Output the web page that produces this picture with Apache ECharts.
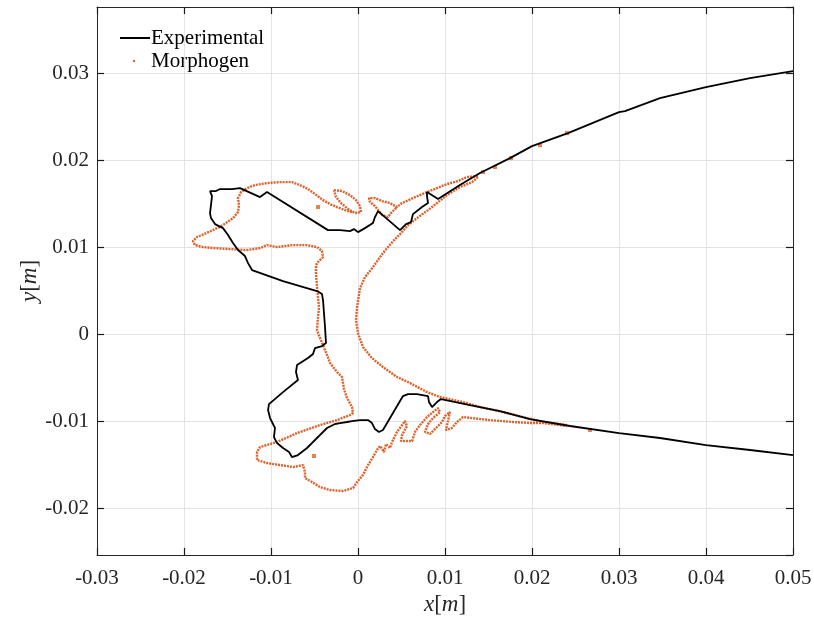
<!DOCTYPE html>
<html>
<head>
<meta charset="utf-8">
<script src="https://cdn.jsdelivr.net/npm/echarts@6/dist/echarts.min.js"></script>
<style>
  html, body { margin: 0; padding: 0; background: #fff; }
  #chart { width: 814px; height: 618px; }
</style>
</head>
<body>
<div id="chart"></div>
<script>
// experimental contour, [x, y] in m
var expPts = [
  [0.0500, 0.03023], [0.04506, 0.02943], [0.0400, 0.02839], [0.03471, 0.02713], [0.03069, 0.02563],
  [0.0300, 0.02552], [0.02414, 0.02310], [0.0200, 0.02161], [0.01747, 0.02023], [0.01402, 0.01851],
  [0.01172, 0.01713], [0.00920, 0.01552], [0.00793, 0.01632], [0.00793, 0.01586], [0.00805, 0.01506],
  [0.00736, 0.01460], [0.00632, 0.01379], [0.00609, 0.01287], [0.00552, 0.01264], [0.00483, 0.01195],
  [0.00230, 0.01414], [0.00195, 0.01345], [0.00172, 0.01276], [0.00080, 0.01218], [0.0, 0.01172],
  [-0.00046, 0.01207], [-0.00092, 0.01184], [-0.00207, 0.01195], [-0.00345, 0.01195], [-0.01046, 0.01632],
  [-0.01126, 0.01575], [-0.01356, 0.01678], [-0.01448, 0.01667], [-0.01586, 0.01667], [-0.01632, 0.01644],
  [-0.01701, 0.01644], [-0.01678, 0.01586], [-0.01690, 0.01483], [-0.01701, 0.01391], [-0.01690, 0.01333],
  [-0.01644, 0.01264], [-0.01552, 0.01218], [-0.01494, 0.01138], [-0.01437, 0.01046], [-0.01379, 0.00966],
  [-0.01299, 0.00897], [-0.01264, 0.00816], [-0.01218, 0.00736], [-0.00862, 0.00609], [-0.00471, 0.00494],
  [-0.00414, 0.00460], [-0.00402, 0.00391], [-0.00391, 0.00241], [-0.00379, 0.00080], [-0.00368, -0.00103],
  [-0.00414, -0.00138], [-0.00494, -0.00161], [-0.00517, -0.00230], [-0.00575, -0.00276], [-0.00701, -0.00356],
  [-0.00713, -0.00437], [-0.00690, -0.00529], [-0.00862, -0.00667], [-0.01023, -0.00805], [-0.01034, -0.00874],
  [-0.01011, -0.00966], [-0.00954, -0.01080], [-0.00966, -0.01184], [-0.00931, -0.01253], [-0.00862, -0.01310],
  [-0.00793, -0.01356], [-0.00759, -0.01414], [-0.00690, -0.01391], [-0.00586, -0.01310], [-0.00471, -0.01195],
  [-0.00356, -0.01080], [-0.00264, -0.01034], [-0.00207, -0.01023], [-0.00126, -0.01011], [-0.00069, -0.01000],
  [0.00023, -0.00989], [0.00115, -0.00989], [0.00161, -0.01023], [0.00195, -0.01092], [0.00241, -0.01126],
  [0.00287, -0.01103], [0.00402, -0.00908], [0.00517, -0.00713], [0.00575, -0.00690], [0.00678, -0.00690],
  [0.00805, -0.00713], [0.00816, -0.00782], [0.00851, -0.00839], [0.00908, -0.00782], [0.00954, -0.00747],
  [0.01287, -0.00816], [0.01632, -0.00885], [0.01977, -0.00977], [0.02437, -0.01057], [0.0300, -0.01138],
  [0.03471, -0.01195], [0.0400, -0.01276], [0.04506, -0.01333], [0.0500, -0.01391]
];

// morphogen contour pieces
var morphUpper = [
  [0.01379, 0.01816], [0.01253, 0.01805], [0.01149, 0.01759], [0.01023, 0.01724], [0.00908, 0.01678],
  [0.00793, 0.01632], [0.00632, 0.01563], [0.00506, 0.01506], [0.00448, 0.01460], [0.00368, 0.01506],
  [0.00276, 0.01529], [0.00195, 0.01563], [0.00126, 0.01563], [0.00138, 0.01517], [0.00195, 0.01471],
  [0.00241, 0.01414], [0.00276, 0.01368], [0.00345, 0.01345], [0.00379, 0.01391], [0.00448, 0.01460]
];
var morphLeaf = [
  [-0.00276, 0.01655], [-0.00184, 0.01644], [-0.00092, 0.01598], [-0.00023, 0.01540], [0.00023, 0.01471],
  [0.00034, 0.01402], [-0.00034, 0.01391], [-0.00115, 0.01437], [-0.00195, 0.01506], [-0.00253, 0.01575],
  [-0.00276, 0.01655]
];
var morphOuter = [
  [-0.00069, 0.01402], [-0.00149, 0.01425], [-0.00241, 0.01460], [-0.00322, 0.01494], [-0.00402, 0.01540],
  [-0.00494, 0.01609], [-0.00575, 0.01667], [-0.00667, 0.01713], [-0.00759, 0.01747], [-0.00897, 0.01747],
  [-0.01046, 0.01736], [-0.01184, 0.01713], [-0.01276, 0.01678], [-0.01345, 0.01632], [-0.01379, 0.01563],
  [-0.01368, 0.01483], [-0.01379, 0.01402], [-0.01437, 0.01333], [-0.01552, 0.01253], [-0.01667, 0.01195],
  [-0.01770, 0.01149], [-0.01851, 0.01115], [-0.01897, 0.01069], [-0.01874, 0.01023], [-0.01782, 0.01000],
  [-0.01667, 0.00989], [-0.01471, 0.00977], [-0.01276, 0.00966], [-0.01126, 0.00989], [-0.01046, 0.01023],
  [-0.00931, 0.01000], [-0.00747, 0.01023], [-0.00586, 0.01023], [-0.00471, 0.01000], [-0.00414, 0.00954],
  [-0.00402, 0.00885], [-0.00460, 0.00828], [-0.00483, 0.00793], [-0.00483, 0.00701], [-0.00471, 0.00540],
  [-0.00460, 0.00425], [-0.00448, 0.00310], [-0.00460, 0.00195], [-0.00471, 0.00046], [-0.00437, -0.00046],
  [-0.00402, -0.00126], [-0.00356, -0.00241], [-0.00322, -0.00333], [-0.00241, -0.00437], [-0.00184, -0.00494],
  [-0.00161, -0.00632], [-0.00126, -0.00736], [-0.00069, -0.00839], [-0.00057, -0.00908], [-0.00092, -0.00931],
  [-0.00241, -0.00989], [-0.00437, -0.01046], [-0.00701, -0.01138], [-0.00931, -0.01241], [-0.01126, -0.01299],
  [-0.01161, -0.01356], [-0.01161, -0.01448], [-0.01046, -0.01483], [-0.00897, -0.01506], [-0.00747, -0.01529],
  [-0.00632, -0.01506], [-0.00609, -0.01586], [-0.00609, -0.01655], [-0.00529, -0.01701], [-0.00437, -0.01759],
  [-0.00322, -0.01793], [-0.00172, -0.01805], [-0.00057, -0.01770], [-0.00011, -0.01701], [0.00057, -0.01621],
  [0.00115, -0.01506], [0.00172, -0.01414], [0.00218, -0.01333], [0.00253, -0.01287], [0.00299, -0.01356],
  [0.00322, -0.01264], [0.00368, -0.01310], [0.00391, -0.01241], [0.00448, -0.01126], [0.00506, -0.01046],
  [0.00540, -0.01000], [0.00563, -0.01057], [0.00506, -0.01161], [0.00494, -0.01230], [0.00621, -0.01230],
  [0.00655, -0.01126], [0.00713, -0.01046], [0.00793, -0.00954], [0.00862, -0.00897], [0.00920, -0.00851],
  [0.00943, -0.00897], [0.00862, -0.00966], [0.00805, -0.01034], [0.00770, -0.01126], [0.00828, -0.01149],
  [0.00897, -0.01080], [0.00966, -0.01011], [0.01000, -0.00943], [0.01057, -0.00897], [0.01011, -0.01103],
  [0.01080, -0.01080], [0.01138, -0.01011], [0.01207, -0.00954], [0.01517, -0.00989], [0.01782, -0.01011],
  [0.01977, -0.01023], [0.02126, -0.01023], [0.02402, -0.01057]
];
var morphInner = [
  [0.01379, 0.01805], [0.01310, 0.01747], [0.01172, 0.01690], [0.01023, 0.01598], [0.00908, 0.01506],
  [0.00805, 0.01425], [0.00678, 0.01333], [0.00575, 0.01253], [0.00483, 0.01149], [0.00402, 0.01069],
  [0.00287, 0.00931], [0.00172, 0.00770], [0.00080, 0.00655], [0.00023, 0.00529], [-0.00011, 0.00310],
  [-0.00023, 0.00161], [0.0, 0.00011], [0.00057, -0.00149], [0.00161, -0.00276], [0.00287, -0.00379],
  [0.00448, -0.00494], [0.00598, -0.00563], [0.00793, -0.00667], [0.00943, -0.00724], [0.01207, -0.00782],
  [0.01402, -0.00839], [0.01667, -0.00897], [0.01897, -0.00954], [0.02126, -0.01011], [0.02402, -0.01046]
];
var morphDots = [
  [0.01437, 0.01862], [0.01575, 0.01920], [0.01759, 0.02023], [0.02092, 0.02172], [0.02402, 0.02310],
  [0.02667, -0.01103], [-0.00460, 0.01460], [-0.00506, -0.01402]
];

var xRange = [-0.03, 0.05];
var yRange = [-0.0254, 0.0376];

var orange = '#E0602A';
var serif = 'Liberation Serif';

var morphLine = [];
[morphUpper, morphLeaf, morphOuter, morphInner].forEach(function (seg, i) {
  if (i > 0) morphLine.push([null, null]);
  morphLine = morphLine.concat(seg);
});

function fmt(v) {
  var r = Math.round(v * 100) / 100;
  return r === 0 ? '0' : String(r);
}

var chart = echarts.init(document.getElementById('chart'));
var axisLine = { show: true, onZero: false, lineStyle: { color: '#262626', width: 1 } };
var tick = { show: true, inside: true, length: 7, lineStyle: { color: '#1a1a1a', width: 1.2 } };
var nameStyle = { fontFamily: serif, fontSize: 23, color: '#262626',
  rich: { i: { fontFamily: serif, fontStyle: 'italic', fontSize: 23, color: '#262626' } } };

chart.setOption({
  animation: false,
  grid: { left: 97, right: 21, top: 7, bottom: 63, containLabel: false, outerBoundsMode: 'none' },
  xAxis: [{
    type: 'value', min: xRange[0], max: xRange[1], interval: 0.01, position: 'bottom',
    axisLine: axisLine, axisTick: tick,
    axisLabel: { fontFamily: serif, fontSize: 21, color: '#262626', margin: 13, formatter: fmt },
    splitLine: { show: true, lineStyle: { color: '#e3e3e3', width: 1 } },
    name: '{i|x}[{i|m}]', nameLocation: 'middle', nameGap: 38, nameTextStyle: nameStyle,
    nameMoveOverlap: false
  }, {
    type: 'value', min: xRange[0], max: xRange[1], interval: 0.01, position: 'top',
    axisLine: axisLine, axisTick: tick, axisLabel: { show: false }, splitLine: { show: false }
  }],
  yAxis: [{
    type: 'value', min: yRange[0], max: yRange[1], splitNumber: 6, position: 'left',
    axisLine: axisLine, axisTick: tick,
    axisLabel: { fontFamily: serif, fontSize: 21, color: '#262626', margin: 8, formatter: fmt,
      showMinLabel: false, showMaxLabel: false },
    splitLine: { show: true, lineStyle: { color: '#e3e3e3', width: 1 } },
    name: '{i|y}[{i|m}]', nameLocation: 'middle', nameGap: 56, nameRotate: 90, nameTextStyle: nameStyle,
    nameMoveOverlap: false
  }, {
    type: 'value', min: yRange[0], max: yRange[1], splitNumber: 6, position: 'right',
    axisLine: axisLine, axisTick: tick, axisLabel: { show: false }, splitLine: { show: false }
  }],
  series: [{
    name: 'Morphogen', type: 'line', data: morphLine, showSymbol: false, symbol: 'none',
    connectNulls: false, lineStyle: { color: orange, width: 2.4, type: [2, 1] }, z: 3
  }, {
    name: 'Morphogen', type: 'scatter', data: morphDots, symbol: 'rect', symbolSize: 4,
    itemStyle: { color: orange }, z: 3
  }, {
    name: 'Experimental', type: 'line', data: expPts, showSymbol: false, symbol: 'none',
    lineStyle: { color: '#000', width: 1.8 }, z: 4
  }],
  graphic: [
    { type: 'line', shape: { x1: 120, y1: 38, x2: 150, y2: 38 }, style: { stroke: '#000', lineWidth: 2 } },
    { type: 'rect', shape: { x: 133, y: 60, width: 2, height: 2 }, style: { fill: orange } },
    { type: 'text', left: 151, top: 28, style: { text: 'Experimental', font: '21px "Liberation Serif"', fill: '#000' } },
    { type: 'text', left: 151, top: 51, style: { text: 'Morphogen', font: '21px "Liberation Serif"', fill: '#000' } }
  ]
});
</script>
</body>
</html>
